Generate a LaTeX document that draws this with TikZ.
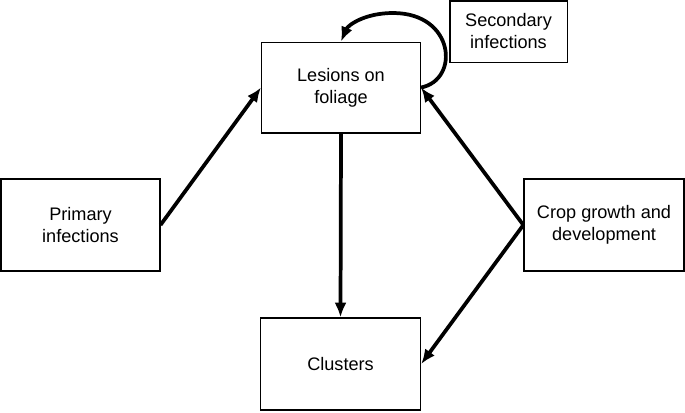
\documentclass[tikz,border=0pt]{standalone}
\usepackage{fontspec}
\setmainfont{Liberation Sans}
\usetikzlibrary{arrows.meta}
\usetikzlibrary{positioning}

\tikzset{
  box/.style={draw, line width=1pt, align=center, inner sep=0pt,
    font=\fontsize{13.6}{16.5}\selectfont},
  link/.style={line width=2.8pt, -{Latex[length=11pt,width=9pt]}}
}

\begin{document}
\begin{tikzpicture}[x=0.75pt,y=-0.75pt]
  \useasboundingbox (0,0) rectangle (685,412);

  \node [box,minimum width=119pt,minimum height=68pt] at (341,87.5) (lesions) {Lesions on\\foliage};
  \node [box,minimum width=88pt,minimum height=46pt] at (508.5,31.5) (secondary) {Secondary\\infections};
  \node [box,minimum width=119pt,minimum height=69pt] at (80.5,225) (primary) {Primary\\infections};
  \node [box,minimum width=120pt,minimum height=69pt] at (604,225) (crop) {Crop growth and\\development};
  \node [box,minimum width=120pt,minimum height=69pt] at (340.5,364) (clusters) {Clusters};

  \draw [link] (primary.east) -- (lesions.west);
  \draw [link] (lesions.south) -- (clusters.north);
  \draw [link] (crop.west) -- (lesions.east);
  \draw [link] (crop.west) -- (clusters.east);

  % loop of secondary infections back onto the lesions
  \draw [link] (lesions.east) .. controls (460,80) and (455,13) .. (393,13)
    .. controls (365,13) and (348,25) .. (lesions.north);

\end{tikzpicture}
\end{document}
